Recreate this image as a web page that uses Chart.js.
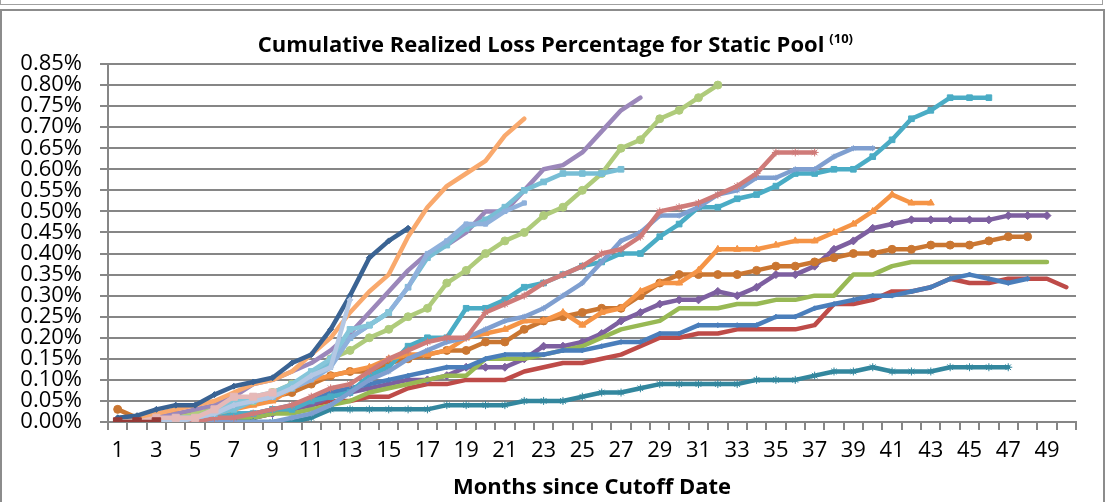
<!DOCTYPE html>
<html><head><meta charset="utf-8">
<script src="https://cdn.jsdelivr.net/npm/chart.js@4.4.0/dist/chart.umd.min.js"></script>
<style>
html,body{margin:0;padding:0;background:#fff;width:1105px;height:502px;overflow:hidden;}
#topbox{position:absolute;left:0;top:0;width:1101px;height:4px;border:1px solid #a0a0a0;border-top:none;}
#frame{position:absolute;left:0;top:9px;width:1101px;height:491px;border:2px solid #8c8c8c;}
#wrap{position:absolute;left:0;top:0;width:1105px;height:502px;}
</style></head><body>
<div id="topbox"></div><div id="frame"></div>
<div id="wrap"><canvas id="c" width="1105" height="502"></canvas></div>
<script>
const months = ['1','2','3','4','5','6','7','8','9','10','11','12','13','14','15','16','17','18','19','20','21','22','23','24','25','26','27','28','29','30','31','32','33','34','35','36','37','38','39','40','41','42','43','44','45','46','47','48','49','50'];
const titleText = 'Cumulative Realized Loss Percentage for Static Pool';
const titleNote = '(10)';
const xTitle = 'Months since Cutoff Date';

// values in percent, one array per pool (newest first)
const poolT = [0,0,0];
const poolS = [0,0,0.01,0.01,0.01,0.03,0.06,0.06,0.07];
const poolR = [0,0,0,0,0.01,0.02,0.04,0.05,0.06,0.08,0.11,0.13,0.29];
const poolQ = [0,0,0,0.01,0.01,0.03,0.05,0.06,0.07,0.09,0.12,0.15,0.22,0.23,0.26];
const poolO = [0.01,0.015,0.03,0.04,0.04,0.065,0.085,0.095,0.105,0.14,0.16,0.22,0.3,0.39,0.43,0.46];
const poolP = [0,0,0,0.01,0.01,0.02,0.04,0.05,0.06,0.08,0.1,0.13,0.2,0.23,0.26,0.32,0.4,0.43,0.47,0.47,0.5,0.52];
const poolN = [0,0.01,0.02,0.03,0.04,0.05,0.07,0.09,0.1,0.12,0.16,0.2,0.26,0.31,0.35,0.44,0.51,0.56,0.59,0.62,0.68,0.72];
const poolM = [0,0,0,0,0.01,0.02,0.03,0.05,0.06,0.08,0.11,0.14,0.2,0.23,0.26,0.32,0.39,0.42,0.46,0.48,0.51,0.55,0.57,0.59,0.59,0.59,0.6];
const poolL = [0,0,0.01,0.02,0.03,0.04,0.06,0.09,0.1,0.12,0.14,0.17,0.21,0.26,0.31,0.36,0.4,0.42,0.45,0.5,0.5,0.55,0.6,0.61,0.64,0.69,0.74,0.77];
const poolK = [0,0,0,0.01,0.02,0.03,0.04,0.05,0.07,0.09,0.11,0.15,0.17,0.2,0.22,0.25,0.27,0.33,0.36,0.4,0.43,0.45,0.49,0.51,0.55,0.59,0.65,0.67,0.72,0.74,0.77,0.8];
const poolJ = [0,0,0,0,0,0.01,0.01,0.02,0.03,0.04,0.06,0.08,0.09,0.12,0.15,0.17,0.19,0.2,0.2,0.26,0.28,0.3,0.33,0.35,0.37,0.4,0.41,0.44,0.5,0.51,0.52,0.54,0.56,0.59,0.64,0.64,0.64];
const poolI = [0,0,0,0,0,0,0,0,0,0.01,0.02,0.04,0.07,0.1,0.12,0.15,0.17,0.19,0.2,0.22,0.24,0.25,0.27,0.3,0.33,0.38,0.43,0.45,0.49,0.49,0.51,0.54,0.55,0.58,0.58,0.6,0.6,0.63,0.65,0.65];
const poolG = [0,0,0,0,0.01,0.02,0.03,0.04,0.05,0.08,0.1,0.11,0.12,0.13,0.15,0.16,0.16,0.17,0.2,0.21,0.22,0.24,0.24,0.26,0.23,0.26,0.27,0.31,0.33,0.33,0.36,0.41,0.41,0.41,0.42,0.43,0.43,0.45,0.47,0.5,0.54,0.52,0.52];
const poolH = [0,0,0,0,0.01,0.01,0.02,0.02,0.03,0.03,0.05,0.06,0.07,0.11,0.13,0.18,0.2,0.2,0.27,0.27,0.29,0.32,0.33,0.35,0.37,0.38,0.4,0.4,0.44,0.47,0.51,0.51,0.53,0.54,0.56,0.59,0.59,0.6,0.6,0.63,0.67,0.72,0.74,0.77,0.77,0.77];
const poolA = [0,0,0,0,0,0,0,0,0,0,0.01,0.03,0.03,0.03,0.03,0.03,0.03,0.04,0.04,0.04,0.04,0.05,0.05,0.05,0.06,0.07,0.07,0.08,0.09,0.09,0.09,0.09,0.09,0.1,0.1,0.1,0.11,0.12,0.12,0.13,0.12,0.12,0.12,0.13,0.13,0.13,0.13];
const poolC = [0,0,0,0,0.01,0.01,0.02,0.02,0.03,0.04,0.05,0.07,0.08,0.09,0.1,0.11,0.12,0.13,0.13,0.15,0.16,0.16,0.16,0.17,0.17,0.18,0.19,0.19,0.21,0.21,0.23,0.23,0.23,0.23,0.25,0.25,0.27,0.28,0.29,0.3,0.3,0.31,0.32,0.34,0.35,0.34,0.33,0.34];
const poolE = [0.03,0.01,0.01,0.02,0.02,0.03,0.04,0.05,0.06,0.07,0.09,0.11,0.12,0.12,0.14,0.15,0.16,0.17,0.17,0.19,0.19,0.22,0.24,0.25,0.26,0.27,0.27,0.3,0.33,0.35,0.35,0.35,0.35,0.36,0.37,0.37,0.38,0.39,0.4,0.4,0.41,0.41,0.42,0.42,0.42,0.43,0.44,0.44];
const poolD = [0,0,0,0,0,0,0.01,0.01,0.02,0.02,0.03,0.04,0.05,0.07,0.08,0.09,0.1,0.11,0.11,0.15,0.15,0.15,0.16,0.17,0.18,0.2,0.22,0.23,0.24,0.27,0.27,0.27,0.28,0.28,0.29,0.29,0.3,0.3,0.35,0.35,0.37,0.38,0.38,0.38,0.38,0.38,0.38,0.38,0.38];
const poolF = [0,0,0,0,0,0,0.01,0.01,0.02,0.03,0.04,0.06,0.07,0.08,0.09,0.1,0.1,0.11,0.13,0.13,0.13,0.15,0.18,0.18,0.19,0.21,0.24,0.26,0.28,0.29,0.29,0.31,0.3,0.32,0.35,0.35,0.37,0.41,0.43,0.46,0.47,0.48,0.48,0.48,0.48,0.48,0.49,0.49,0.49];
const poolB = [0,0,0,0,0,0,0.01,0.01,0.02,0.03,0.04,0.05,0.05,0.06,0.06,0.08,0.09,0.09,0.1,0.1,0.1,0.12,0.13,0.14,0.14,0.15,0.16,0.18,0.2,0.2,0.21,0.21,0.22,0.22,0.22,0.22,0.23,0.28,0.28,0.29,0.31,0.31,0.32,0.34,0.33,0.33,0.34,0.34,0.34,0.32];

const FONT = "'Open Sans', 'DejaVu Sans', sans-serif";

function ds(data, color, style, radius){
  return {data, borderColor:color, backgroundColor:color, pointBackgroundColor:color, pointBorderColor:color,
    pointStyle:style || 'circle', pointRadius: radius===undefined?3:radius, pointBorderWidth:1,
    borderWidth:4.5, tension:0, fill:false, borderJoinStyle:'round', borderCapStyle:'round'};
}

const datasets = [
  ds(poolT,'#953A37','rect',6),
  ds(poolS,'#E6B9B8','rect',5),
  ds(poolR,'#B4C8E4','rectRot',3),
  ds(poolQ,'#86C6DA','rect',4),
  ds(poolO,'#3A6393','rectRot',3),
  ds(poolP,'#8FB1DC','rect',3),
  ds(poolN,'#F9A96D','circle',0),
  ds(poolM,'#78BED5','rect',4),
  ds(poolL,'#9B87BA','circle',0),
  ds(poolK,'#AFCB7B','circle',4),
  ds(poolJ,'#CF7B79','star',4),
  ds(poolI,'#7F9FD0','star',3),
  ds(poolG,'#F59446','triangle',4),
  ds(poolH,'#4AACC5','rect',4),
  ds(poolA,'#33879E','star',4),
  ds(poolC,'#4A7EBB','rectRot',2.5),
  ds(poolE,'#CA7631','circle',4),
  ds(poolD,'#98B954','circle',0),
  ds(poolF,'#7D5FA0','rectRot',4),
  ds(poolB,'#BE4B48','circle',0)
];

const titlePlugin = {
  id:'customTitle',
  afterDraw(chart){
    const ctx = chart.ctx;
    ctx.save();
    ctx.fillStyle = '#000';
    ctx.textBaseline = 'middle';
    ctx.font = "bold 22px " + FONT;
    const w = ctx.measureText(titleText).width;
    const cx = 541;
    ctx.textAlign = 'left';
    ctx.fillText(titleText, cx - w/2, 46);
    ctx.font = "bold 13px " + FONT;
    ctx.fillText(titleNote, cx + w/2 + 5, 39);
    ctx.restore();
  }
};

new Chart(document.getElementById('c'), {
  type:'line',
  data:{labels:months, datasets},
  plugins:[titlePlugin],
  options:{
    responsive:false, animation:false, devicePixelRatio:1,
    layout:{padding:{top:64,right:29,left:0,bottom:0}},
    plugins:{legend:{display:false}, title:{display:false}, tooltip:{enabled:false}},
    scales:{
      x:{
        offset:true,
        grid:{offset:true, drawOnChartArea:false, drawTicks:true, tickLength:8, color:'#868686', lineWidth:2},
        border:{color:'#868686', width:2},
        ticks:{autoSkip:false, maxRotation:0, minRotation:0, padding:8, color:'#000',
          font:{family:FONT, size:22},
          callback:(v,i)=> (i%2===0 ? months[i] : '')},
        title:{display:true, text:xTitle, color:'#000', font:{family:FONT, size:22, weight:'bold'}, padding:{top:0,bottom:1}},
        afterFit:(s)=>{s.height=80;}
      },
      y:{
        min:0, max:0.85,
        grid:{color:'#868686', lineWidth:2, tickLength:8},
        border:{color:'#868686', width:2},
        ticks:{stepSize:0.05, autoSkip:false, padding:18, color:'#000', font:{family:FONT, size:22},
          callback:(v)=> v.toFixed(2)+'%'},
        afterFit:(s)=>{s.width=108;}
      }
    }
  }
});
</script>
</body></html>
